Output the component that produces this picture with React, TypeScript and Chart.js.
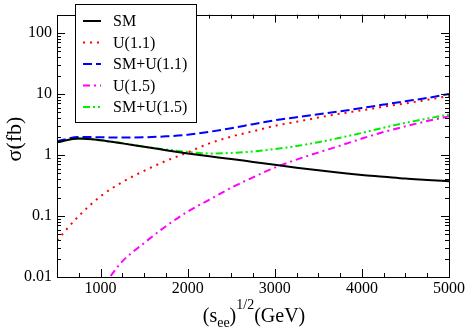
import React, { useEffect, useRef } from 'react';
import { Chart, registerables } from 'chart.js';

Chart.register(...registerables);

const energies = [500, 750, 1000, 1250, 1500, 1750, 2000, 2250, 2500, 2750, 3000, 3250, 3500, 3750, 4000, 4250, 4500, 4750, 5000];
const smValues = [1.62, 1.87, 1.75, 1.55, 1.36, 1.2, 1.06, 0.95, 0.86, 0.77, 0.69, 0.62, 0.56, 0.51, 0.47, 0.44, 0.41, 0.39, 0.37];
const u11Values = [0.04, 0.1, 0.21, 0.36, 0.55, 0.8, 1.1, 1.55, 2.0, 2.45, 3.0, 3.5, 4.1, 4.75, 5.4, 6.2, 7.0, 8.0, 9.3];
const smU11Values = [1.67, 1.98, 1.95, 1.93, 1.95, 2.02, 2.15, 2.4, 2.75, 3.2, 3.7, 4.15, 4.65, 5.2, 5.9, 6.7, 7.6, 8.6, 10.0];
const u15Values = [null, null, 0.0062, 0.018, 0.036, 0.068, 0.118, 0.185, 0.29, 0.43, 0.62, 0.84, 1.1, 1.42, 1.86, 2.38, 2.95, 3.6, 4.3];
const smU15Values = [1.62, 1.87, 1.75, 1.56, 1.37, 1.23, 1.12, 1.06, 1.08, 1.14, 1.25, 1.4, 1.62, 1.92, 2.3, 2.8, 3.35, 3.95, 4.6];

const seriesLabels = ['SM', 'U(1.1)', 'SM+U(1.1)', 'U(1.5)', 'SM+U(1.5)'];
const seriesColors = ['#000000', '#ff0000', '#0000ff', '#ff00ff', '#00ee00'];
const seriesDashes = [[], [2, 5], [9, 4], [7, 4, 2, 4], [7, 3, 2, 3, 2, 3]];

const xTickValues = [1000, 2000, 3000, 4000, 5000];
const yTickValues = [0.01, 0.1, 1, 10, 100];
const xMin = 500;
const xMax = 5000;
const xMinorStep = 250;
const yMin = 0.01;
const yMax = 200;

const SERIF = '"Liberation Serif"';

const toPoints = (vals: (number | null)[]) =>
  energies.map((e, i) => ({ x: e, y: vals[i] })).filter((p) => p.y !== null);

const decorPlugin = {
  id: 'decor',
  afterDatasetsDraw(chart: any) {
    const ctx = chart.ctx;
    const { left, right, top, bottom } = chart.chartArea;
    const xs = chart.scales.x;
    const ys = chart.scales.y;
    ctx.save();
    ctx.strokeStyle = '#000';
    ctx.lineWidth = 1;
    ctx.strokeRect(Math.round(left) + 0.5, Math.round(top) + 0.5, Math.round(right - left), Math.round(bottom - top));
    ctx.beginPath();
    for (let v = xMin + xMinorStep; v < xMax; v += xMinorStep) {
      const px = Math.round(xs.getPixelForValue(v)) + 0.5;
      const len = v % 1000 === 0 ? 8 : 4;
      ctx.moveTo(px, bottom);
      ctx.lineTo(px, bottom - len);
      ctx.moveTo(px, top);
      ctx.lineTo(px, top + len);
    }
    for (let d = 0.01; d < yMax; d *= 10) {
      for (let m = 1; m <= 9; m++) {
        const v = m * d;
        if (v > yMax * 1.0001 || v <= yMin * 1.0001) continue;
        const py = Math.round(ys.getPixelForValue(v)) + 0.5;
        const len = m === 1 ? 8 : 4;
        ctx.moveTo(left, py);
        ctx.lineTo(left + len, py);
        ctx.moveTo(right, py);
        ctx.lineTo(right - len, py);
      }
    }
    ctx.stroke();

    // legend
    const bx = 75, by = 4, bw = 121, bh = 118;
    ctx.fillStyle = '#fff';
    ctx.fillRect(bx, by, bw, bh);
    ctx.strokeStyle = '#000';
    ctx.lineWidth = 1;
    ctx.strokeRect(bx + 0.5, by + 0.5, bw, bh);
    ctx.font = `16px ${SERIF}`;
    ctx.textBaseline = 'middle';
    ctx.textAlign = 'left';
    chart.data.datasets.forEach((ds: any, i: number) => {
      const ly = 21 + i * 21.5;
      ctx.save();
      ctx.strokeStyle = ds.borderColor;
      ctx.lineWidth = 2;
      ctx.setLineDash(ds.borderDash || []);
      ctx.beginPath();
      ctx.moveTo(83, ly);
      ctx.lineTo(101, ly);
      ctx.stroke();
      ctx.restore();
      ctx.fillStyle = '#000';
      ctx.fillText(ds.label, 113, ly + 1);
    });

    // y title
    ctx.save();
    ctx.translate(15, 139);
    ctx.rotate(-Math.PI / 2);
    ctx.font = `22px ${SERIF}`;
    ctx.textAlign = 'center';
    ctx.textBaseline = 'middle';
    ctx.fillStyle = '#000';
    ctx.fillText('σ(fb)', 0, 0);
    ctx.restore();

    // x title: (s_ee)^{1/2}(GeV)
    ctx.fillStyle = '#000';
    ctx.textBaseline = 'alphabetic';
    ctx.textAlign = 'left';
    const big = `20px ${SERIF}`;
    const small = `14px ${SERIF}`;
    const parts: [string, string, number][] = [
      ['(s', big, 0],
      ['ee', small, 5],
      [')', big, 0],
      ['1/2', small, -13],
      ['(GeV)', big, 0],
    ];
    let total = 0;
    parts.forEach(([t, f]) => {
      ctx.font = f;
      total += ctx.measureText(t).width;
    });
    let cx = (left + right) / 2 - total / 2 + 1;
    const base = 322;
    parts.forEach(([t, f, dy]) => {
      ctx.font = f;
      ctx.fillText(t, cx, base + dy);
      cx += ctx.measureText(t).width;
    });
    ctx.restore();
  },
};

export default function App() {
  const canvasRef = useRef<HTMLCanvasElement | null>(null);

  useEffect(() => {
    document.body.style.margin = '0';
    const canvas = canvasRef.current;
    if (!canvas) return;
    let chart: Chart | null = null;
    let cancelled = false;
    const build = () => {
      if (cancelled) return;
      if (chart) chart.destroy();
      const allValues = [smValues, u11Values, smU11Values, u15Values, smU15Values];
      chart = new Chart(canvas, {
        type: 'line',
        data: {
          datasets: allValues.map((vals, i) => ({
            label: seriesLabels[i],
            data: toPoints(vals) as any,
            borderColor: seriesColors[i],
            backgroundColor: seriesColors[i],
            borderDash: seriesDashes[i],
            borderWidth: 2,
            pointRadius: 0,
            fill: false,
            cubicInterpolationMode: 'monotone',
          })),
        },
        options: {
          animation: false,
          responsive: false,
          maintainAspectRatio: false,
          layout: { padding: { top: 2, right: 19, left: 0, bottom: 0 } },
          plugins: { legend: { display: false }, tooltip: { enabled: false } },
          scales: {
            x: {
              type: 'linear',
              min: xMin,
              max: xMax,
              afterBuildTicks: (s: any) => {
                s.ticks = xTickValues.map((v) => ({ value: v }));
              },
              afterFit: (s: any) => {
                s.height = 55;
              },
              grid: { display: false, drawTicks: false },
              border: { display: false },
              ticks: {
                color: '#000',
                font: { family: SERIF, size: 16 },
                padding: 2,
                maxRotation: 0,
                autoSkip: false,
                callback: (v: any) => String(v),
              },
            },
            y: {
              type: 'logarithmic',
              min: yMin,
              max: yMax,
              afterBuildTicks: (s: any) => {
                s.ticks = yTickValues.map((v) => ({ value: v }));
              },
              afterFit: (s: any) => {
                s.width = 57;
              },
              grid: { display: false, drawTicks: false },
              border: { display: false },
              ticks: {
                color: '#000',
                font: { family: SERIF, size: 16 },
                padding: 5,
                autoSkip: false,
                callback: (v: any) => String(v),
              },
            },
          },
        },
        plugins: [decorPlugin],
      });
    };
    build();
    const fonts = (document as any).fonts;
    if (fonts && fonts.load) {
      Promise.all([
        fonts.load('16px "Liberation Serif"'),
        fonts.load('22px "Liberation Serif"'),
        fonts.load('14px "Liberation Serif"'),
      ]).then(build, build);
    }
    return () => {
      cancelled = true;
      if (chart) chart.destroy();
    };
  }, []);

  return (
    <div style={{ position: 'fixed', left: 0, top: 0, width: 468, height: 332, background: '#fff' }}>
      <canvas ref={canvasRef} width={468} height={332} style={{ display: 'block' }} />
    </div>
  );
}
